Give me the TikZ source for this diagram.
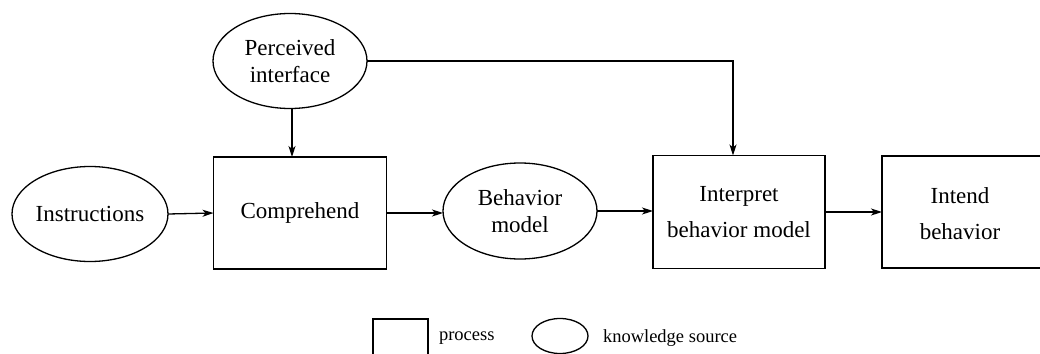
\documentclass[tikz,border=0pt]{standalone}
\usepackage{fontspec}
\setmainfont{Liberation Serif}
\usetikzlibrary{arrows.meta,shapes.geometric}
\begin{document}
\begin{tikzpicture}[x=1pt,y=1pt,
  every node/.style={inner sep=0pt,outer sep=0pt},
  know/.style={draw,ellipse,line width=1.3pt,align=center,font=\fontsize{23}{27}\selectfont},
  proc/.style={draw,rectangle,line width=1.3pt,align=center,font=\fontsize{23}{36}\selectfont},
  conn/.style={line width=1.3pt,-{Stealth[length=11pt,width=7pt,inset=3pt]}},
  legtxt/.style={anchor=west,font=\fontsize{18.5}{22}\selectfont}]
\useasboundingbox (0,0) rectangle (1040,-353);
\clip (0,0) rectangle (1040,-353);
\node[know,minimum width=154,minimum height=95] (pi) at (290,-61) {Perceived\\interface};
\node[know,minimum width=156,minimum height=95] (ins) at (90,-214) {Instructions};
\node[proc,minimum width=173,minimum height=112] (comp) at (300,-213) {Comprehend};
\node[know,minimum width=154,minimum height=96] (bm) at (520,-211) {Behavior\\model};
\node[proc,minimum width=172,minimum height=113] (interp) at (739,-212) {Interpret\\behavior model};
\node[proc,minimum width=160,minimum height=112] (intend) at (962,-212) {};
\node[font=\fontsize{23}{36}\selectfont,align=center] (intendtxt) at (960,-214) {Intend\\behavior};
\coordinate (pidown) at (292,-108.5);
\draw[conn] (pidown) -- (pidown |- comp.north);
\coordinate (piright) at (367,-61);
\draw[conn] (piright) -- (733,-61) -- (733,-155.5);
\draw[conn] (ins.east) -- (comp.west);
\draw[conn] (comp.east) -- (comp.east -| bm.west);
\draw[conn] (bm.east) -- (bm.east -| interp.west);
\draw[conn] (interp.east) -- (interp.east -| intend.west);
% legend
\node[draw,rectangle,line width=1.3pt,minimum width=55,minimum height=36] (lp) at (400.5,-337) {};
\node[legtxt] (lpt) at (439,-338) {process};
\node[draw,ellipse,line width=1.3pt,minimum width=56,minimum height=35] (lk) at (560,-336) {};
\node[legtxt] (lkt) at (603,-338) {knowledge source};
\end{tikzpicture}
\end{document}
